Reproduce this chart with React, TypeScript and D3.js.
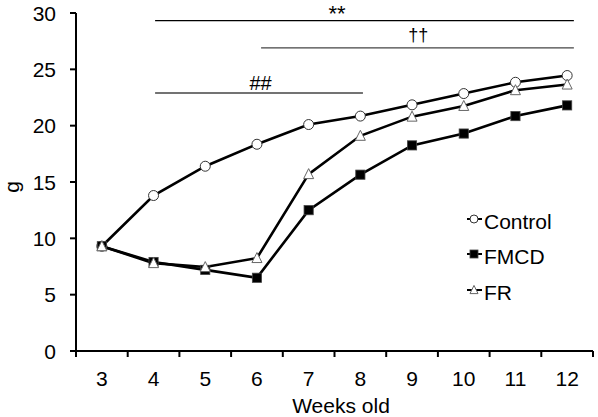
import React from "react";
import * as d3 from "d3";

const weeks = [3, 4, 5, 6, 7, 8, 9, 10, 11, 12];
const controlValues = [9.3, 13.8, 16.4, 18.35, 20.1, 20.85, 21.85, 22.85, 23.85, 24.45];
const fmcdValues = [9.3, 7.9, 7.2, 6.5, 12.5, 15.65, 18.25, 19.3, 20.85, 21.8];
const frValues = [9.3, 7.8, 7.45, 8.25, 15.7, 19.1, 20.8, 21.75, 23.15, 23.65];
const yTicks = [0, 5, 10, 15, 20, 25, 30];
const seriesNames = ["Control", "FMCD", "FR"];

const annotations = [
  { label: "**", start: 4.03, end: 12.13, level: 29.33, labelWeek: 7.55, labelLevel: 29.29 },
  { label: "††", start: 6.08, end: 12.13, level: 26.9, labelWeek: 9.12, labelLevel: 27.55 },
  { label: "##", start: 4.03, end: 8.05, level: 22.9, labelWeek: 6.07, labelLevel: 23.2 },
];

const W = 598;
const H = 417;
const left = 76;
const right = 593;
const top = 13;
const bottom = 351;
const font = "'Liberation Sans', Arial, Helvetica, sans-serif";
const fs = 21;

type Kind = "circle" | "square" | "triangle";

function Marker({ kind, x, y, s }: { kind: Kind; x: number; y: number; s: number }) {
  if (kind === "circle") {
    return <circle cx={x} cy={y} r={s} fill="#fff" stroke="#333" strokeWidth={1} />;
  }
  if (kind === "square") {
    return <rect x={x - s} y={y - s} width={2 * s} height={2 * s} fill="#000" stroke="#444" strokeWidth={0.8} />;
  }
  const h = s * 1.8;
  const p = `${x},${y - h / 2 - 1} ${x + s},${y + h / 2} ${x - s},${y + h / 2}`;
  return <polygon points={p} fill="#fff" stroke="#666" strokeWidth={1} />;
}

export default function App() {
  const x = d3.scaleLinear().domain([2.5, 12.5]).range([left, right]);
  const y = d3.scaleLinear().domain([0, 30]).range([bottom, top]);
  const line = d3
    .line<number>()
    .x((_, i) => x(weeks[i]))
    .y((d) => y(d));

  const series: { name: string; values: number[]; kind: Kind }[] = [
    { name: seriesNames[0], values: controlValues, kind: "circle" },
    { name: seriesNames[1], values: fmcdValues, kind: "square" },
    { name: seriesNames[2], values: frValues, kind: "triangle" },
  ];

  const xBoundaries = d3.range(2.5, 12.6, 1);
  const legendY = [219, 254, 290];

  return (
    <svg width={W} height={H} style={{ display: "block", position: "absolute", left: 0, top: 0 }} fontFamily={font}>
      <rect width={W} height={H} fill="#fff" />
      {annotations.map((a, i) => (
        <g key={a.label}>
          <line
            x1={x(a.start)}
            x2={x(a.end)}
            y1={y(a.level)}
            y2={y(a.level)}
            stroke={i === 0 ? "#000" : "#444"}
            strokeWidth={1.3}
          />
          <text x={x(a.labelWeek)} y={y(a.labelLevel)} textAnchor="middle" fontSize={i === 0 ? 22 : i === 1 ? 18 : 20} fill="#000">
            {a.label}
          </text>
        </g>
      ))}
      <line x1={left} x2={left} y1={top} y2={bottom + 1} stroke="#000" strokeWidth={2} />
      <line x1={left - 1} x2={right} y1={bottom} y2={bottom} stroke="#000" strokeWidth={2} />
      {yTicks.map((t) => (
        <g key={t}>
          <line x1={left - 6} x2={left} y1={y(t)} y2={y(t)} stroke="#000" strokeWidth={2} />
          <text x={56} y={y(t) + 7.5} textAnchor="end" fontSize={fs} fill="#000">
            {t}
          </text>
        </g>
      ))}
      {xBoundaries.map((b) => (
        <line key={b} x1={x(b)} x2={x(b)} y1={bottom} y2={bottom + 6} stroke="#000" strokeWidth={2} />
      ))}
      {weeks.map((w) => (
        <text key={w} x={x(w)} y={386} textAnchor="middle" fontSize={fs} fill="#000">
          {w}
        </text>
      ))}
      <text x={341} y={413} textAnchor="middle" fontSize={fs} fill="#000">
        Weeks old
      </text>
      <text transform={`translate(19,187) rotate(-90)`} textAnchor="middle" fontSize={fs} fill="#000">
        g
      </text>
      {series.map((s) => (
        <path key={s.name} d={line(s.values) || ""} fill="none" stroke="#000" strokeWidth={2.6} />
      ))}
      {series.map((s) => (
        <g key={s.name + "m"}>
          {s.values.map((v, i) => (
            <Marker key={i} kind={s.kind} x={x(weeks[i])} y={y(v)} s={s.kind === "square" ? 4.6 : 5} />
          ))}
        </g>
      ))}
      {series.map((s, i) => (
        <g key={s.name + "l"}>
          <line x1={467} x2={482} y1={legendY[i]} y2={legendY[i]} stroke="#000" strokeWidth={2} />
          <Marker kind={s.kind} x={474} y={legendY[i]} s={4} />
          <text x={484} y={legendY[i] + 10} fontSize={fs} fill="#000">
            {s.name}
          </text>
        </g>
      ))}
    </svg>
  );
}
